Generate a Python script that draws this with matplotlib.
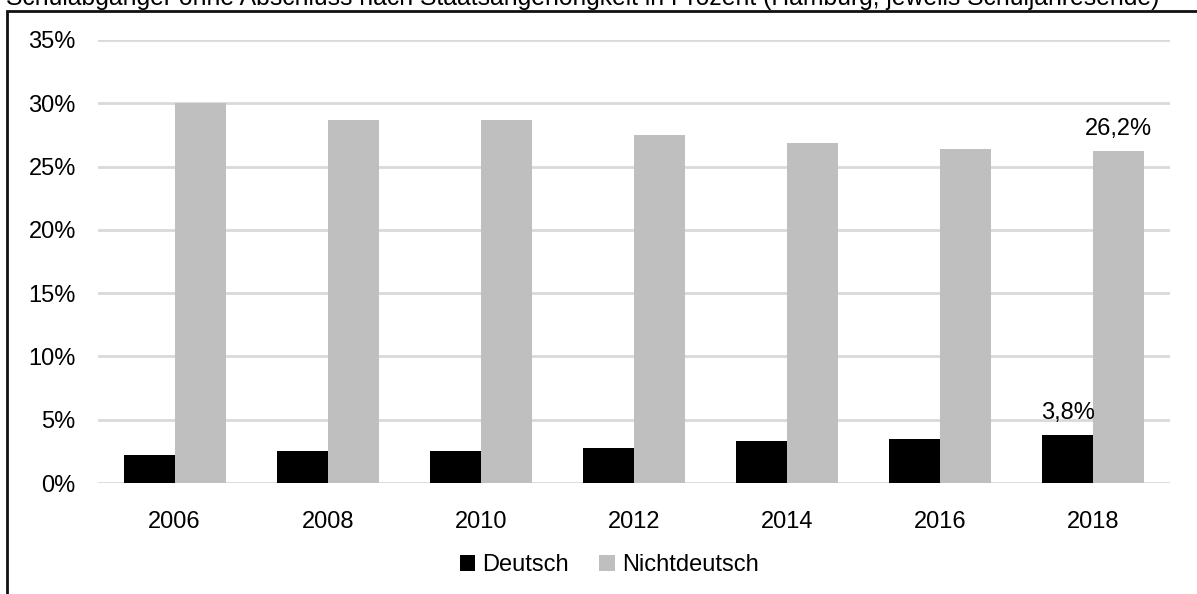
import matplotlib
matplotlib.use("Agg")
import matplotlib.pyplot as plt
from matplotlib.patches import Rectangle
import numpy as np

plt.rcParams['font.family'] = ['Liberation Sans', 'DejaVu Sans']

years = ["2006", "2008", "2010", "2012", "2014", "2016", "2018"]
deutsch = [2.2, 2.5, 2.5, 2.8, 3.3, 3.5, 3.8]
nichtdeutsch = [30.0, 28.7, 28.7, 27.5, 26.9, 26.4, 26.2]
series_names = ["Deutsch", "Nichtdeutsch"]
yticks = [0, 5, 10, 15, 20, 25, 30, 35]
title = "Schulabgänger ohne Abschluss nach Staatsangehörigkeit in Prozent (Hamburg, jeweils Schuljahresende)"

FS = 17
W, H = 1197, 594
fig = plt.figure(figsize=(W / 100, H / 100), dpi=100)
fig.patch.set_facecolor("white")

# outer frame of the chart object
fig.patches.append(Rectangle((7 / W, -0.05), 1.1, (H - 10.5) / H + 0.05,
                             transform=fig.transFigure, fill=False,
                             edgecolor="#111111", linewidth=2.0, zorder=0))

# title line (mostly above the top edge)
fig.text(6 / W, (H - 5) / H, title, ha="left", va="baseline",
         fontsize=17.8, color="black")

ax = fig.add_axes([98 / W, 111 / H, (1170 - 98) / W, (483 - 40) / H])
x = np.arange(len(years))
bw = 0.333

b1 = ax.bar(x - bw / 2, deutsch, bw, color="black", label=series_names[0], zorder=3)
b2 = ax.bar(x + bw / 2, nichtdeutsch, bw, color="#bfbfbf", label=series_names[1], zorder=3)

ax.set_xlim(-0.5, len(years) - 0.5)
ax.set_ylim(0, 35)
ax.set_yticks(yticks)
ax.set_yticklabels([f"{t}%" for t in yticks])
ax.set_xticks(x)
ax.set_xticklabels(years)
ax.tick_params(axis="both", length=0, labelsize=FS, colors="black")
ax.tick_params(axis="y", pad=16)
ax.tick_params(axis="x", pad=20)
ax.yaxis.grid(True, color="#d9d9d9", linewidth=2, zorder=0)
for s in ax.spines.values():
    s.set_visible(False)

# value labels on the last year
i = len(years) - 1
ax.annotate(f"{deutsch[i]:.1f}%".replace(".", ","), (x[i] - bw / 2, deutsch[i]),
            xytext=(0, 8), textcoords="offset points", ha="center", va="bottom",
            fontsize=FS)
ax.annotate(f"{nichtdeutsch[i]:.1f}%".replace(".", ","), (x[i] + bw / 2, nichtdeutsch[i]),
            xytext=(0, 8), textcoords="offset points", ha="center", va="bottom",
            fontsize=FS)

leg = fig.legend(handles=[b1, b2], labels=series_names, loc="center",
                 bbox_to_anchor=(609 / W, (H - 565) / H), ncol=2, frameon=False,
                 fontsize=FS, handlelength=0.65, handleheight=0.65,
                 handletextpad=0.3, columnspacing=1.3)

fig.savefig("out.png", dpi=100)
